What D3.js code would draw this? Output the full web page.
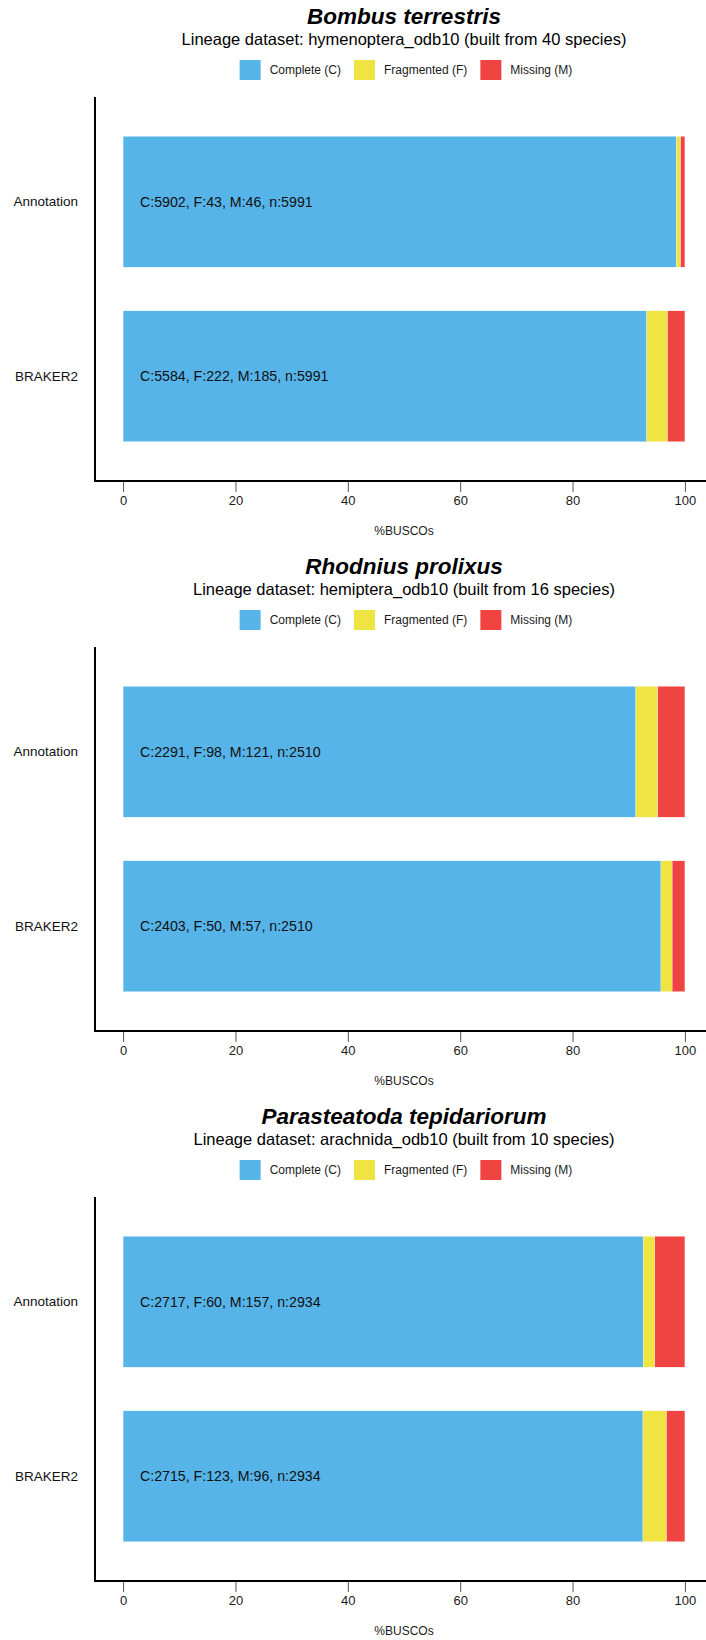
<!DOCTYPE html>
<html>
<head>
<meta charset="utf-8">
<script src="https://cdn.jsdelivr.net/npm/d3@7"></script>
<style>
  body { margin: 0; background: #fff; }
  svg { display: block; font-family: "Liberation Sans", Arial, Helvetica, sans-serif; }
</style>
</head>
<body>
<svg id="chart" width="706" height="1640"></svg>
<script>
const species = ['Bombus terrestris', 'Rhodnius prolixus', 'Parasteatoda tepidariorum']
const lineages = ['hymenoptera_odb10', 'hemiptera_odb10', 'arachnida_odb10']
const builtFrom = [40, 16, 10]
const runs = ['Annotation', 'BRAKER2']

const complete = [[5902, 5584], [2291, 2403], [2717, 2715]]
const fragmented = [[43, 222], [98, 50], [60, 123]]
const missing = [[46, 185], [121, 57], [157, 96]]
const totals = [5991, 2510, 2934]

const xTicks = [0, 20, 40, 60, 80, 100]
const keys = ['C', 'F', 'M']
const legendLabels = ['Complete (C)', 'Fragmented (F)', 'Missing (M)']
const colors = ['#56B4E9', '#F0E442', '#F04442']

const panelHeight = 550
const plotLeft = 95, plotRight = 713, plotTop = 97, plotBottom = 481
const titleX = (plotLeft + plotRight) / 2

const svg = d3.select('#chart')

const x = d3.scaleLinear().domain([-5, 105]).range([plotLeft, plotRight])
const y = d3.scaleBand().domain(runs).range([plotTop, plotBottom])
    .paddingInner(0.25).paddingOuter(0.225)
const color = d3.scaleOrdinal().domain(keys).range(colors)

function drawPanel(i) {
    const g = svg.append('g').attr('transform', 'translate(0,' + i * panelHeight + ')')

    const rows = runs.map((r, j) => ({
        run: r,
        C: 100 * complete[i][j] / totals[i],
        F: 100 * fragmented[i][j] / totals[i],
        M: 100 * missing[i][j] / totals[i],
        label: 'C:' + complete[i][j] + ', F:' + fragmented[i][j] + ', M:' + missing[i][j] + ', n:' + totals[i]
    }))

    // titles
    g.append('text')
        .attr('x', titleX).attr('y', 24)
        .attr('text-anchor', 'middle')
        .style('font-size', '22.5px').style('font-weight', 'bold').style('font-style', 'italic')
        .text(species[i])
    g.append('text')
        .attr('x', titleX).attr('y', 45)
        .attr('text-anchor', 'middle')
        .style('font-size', '16.5px')
        .text('Lineage dataset: ' + lineages[i] + ' (built from ' + builtFrom[i] + ' species)')

    // legend
    const legend = g.append('g')
    let lx = 0
    keys.forEach((k, j) => {
        const item = legend.append('g').attr('transform', 'translate(' + lx + ',0)')
        item.append('rect').attr('x', 0).attr('y', 60).attr('width', 21).attr('height', 20)
            .attr('fill', color(k))
        const t = item.append('text').attr('x', 30).attr('y', 70).attr('dy', '0.35em')
            .style('font-size', '12px').attr('fill', '#1a1a1a')
            .text(legendLabels[j])
        lx += 30 + t.node().getComputedTextLength() + 13
    })
    const legendWidth = lx - 13
    legend.attr('transform', 'translate(' + (titleX + 2 - legendWidth / 2) + ',0)')

    // bars
    const stack = d3.stack().keys(keys)(rows)
    g.append('g').selectAll('g')
        .data(stack)
        .enter().append('g')
        .attr('fill', d => color(d.key))
        .selectAll('rect')
        .data(d => d)
        .enter().append('rect')
        .attr('x', d => x(d[0]))
        .attr('width', d => x(d[1]) - x(d[0]))
        .attr('y', d => y(d.data.run))
        .attr('height', y.bandwidth())
        .attr('stroke', '#fff')
        .attr('stroke-width', 0.3)

    g.append('g').selectAll('text')
        .data(rows)
        .enter().append('text')
        .attr('x', x(3))
        .attr('y', d => y(d.run) + y.bandwidth() / 2)
        .attr('dy', '0.35em')
        .style('font-size', '14.2px')
        .attr('fill', '#111')
        .text(d => d.label)

    // axes
    const xAxis = g.append('g')
        .attr('transform', 'translate(0,' + plotBottom + ')')
        .call(d3.axisBottom(x).tickValues(xTicks).tickSize(11).tickPadding(3.5))
    xAxis.select('.domain').remove()
    xAxis.attr('font-family', null)
    xAxis.selectAll('line').attr('stroke', '#555').attr('stroke-width', 1)
    xAxis.selectAll('text').style('font-size', '13px').attr('fill', '#1a1a1a')

    const yAxis = g.append('g')
        .attr('transform', 'translate(' + plotLeft + ',0)')
        .call(d3.axisLeft(y).tickSize(0).tickPadding(17))
    yAxis.select('.domain').remove()
    yAxis.attr('font-family', null)
    yAxis.selectAll('text').style('font-size', '13.5px').attr('fill', '#111')

    g.append('path')
        .attr('d', 'M' + plotLeft + ',' + plotTop + 'V' + plotBottom + 'H' + plotRight)
        .attr('fill', 'none').attr('stroke', '#000').attr('stroke-width', 2)
        .attr('stroke-linejoin', 'miter')

    g.append('text')
        .attr('x', titleX).attr('y', 535)
        .attr('text-anchor', 'middle')
        .style('font-size', '12px').attr('fill', '#1a1a1a')
        .text('%BUSCOs')
}

species.forEach((s, i) => drawPanel(i))
</script>
</body>
</html>
